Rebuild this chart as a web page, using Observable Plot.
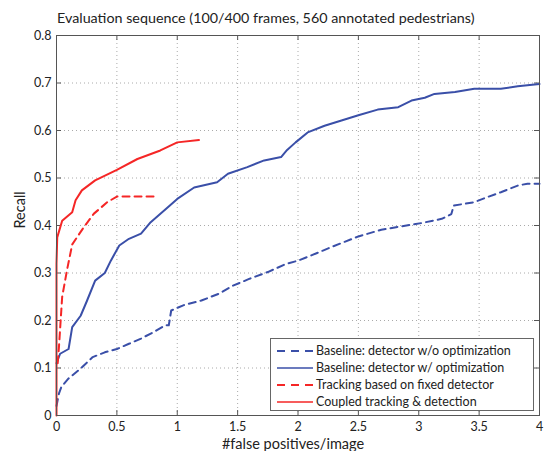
<!DOCTYPE html>
<html>
<head>
<meta charset="utf-8">
<script src="https://cdn.jsdelivr.net/npm/d3@7"></script>
<script src="https://cdn.jsdelivr.net/npm/@observablehq/plot@0.6"></script>
<style>
  html, body { margin: 0; padding: 0; background: #fff; }
  #wrap { position: relative; width: 544px; height: 451px; font-family: "Lato", "Liberation Sans", sans-serif; }
  #title { height: 28px; box-sizing: border-box; padding-top: 10px; padding-left: 57px; font-size: 14.3px; line-height: 16px; color: #222; white-space: nowrap; }
  #legend { position: absolute; left: 270px; top: 338px; width: 264px; height: 73px; box-sizing: border-box; border: 1px solid #666; background: #fff; padding-top: 3px; }
  .row { height: 17px; display: flex; align-items: center; font-size: 12.5px; color: #222; white-space: nowrap; }
  .row svg { margin-left: 6px; margin-right: 3px; }
</style>
</head>
<body>
<div id="wrap">
  <div id="title"></div>
  <div id="chart"></div>
  <div id="legend"></div>
</div>
<script>
const title = "Evaluation sequence (100/400 frames, 560 annotated pedestrians)";
const xLabel = "#false positives/image";
const yLabel = "Recall";
const xTicks = [0, 0.5, 1, 1.5, 2, 2.5, 3, 3.5, 4];
const yTicks = [0, 0.1, 0.2, 0.3, 0.4, 0.5, 0.6, 0.7, 0.8];

const seriesNames = [
  "Baseline: detector w/o optimization",
  "Baseline: detector w/ optimization",
  "Tracking based on fixed detector",
  "Coupled tracking & detection"
];
const seriesColors = ["#3a4fa8", "#3a4fa8", "#f52626", "#f52626"];
const seriesDashed = [true, false, true, false];

// [false positives per image, recall]
const baselineWithout = [
  [0, 0.02], [0.02, 0.046], [0.04, 0.06], [0.1, 0.078], [0.2, 0.099], [0.3, 0.123],
  [0.4, 0.133], [0.5, 0.14], [0.6, 0.151], [0.7, 0.162], [0.8, 0.175], [0.9, 0.19],
  [0.93, 0.19], [0.95, 0.221], [1.05, 0.232], [1.2, 0.242], [1.35, 0.257], [1.45, 0.272],
  [1.6, 0.288], [1.75, 0.302], [1.9, 0.319], [2.0, 0.326], [2.11, 0.337], [2.27, 0.354],
  [2.5, 0.377], [2.69, 0.391], [2.85, 0.398], [3.02, 0.405], [3.19, 0.414], [3.27, 0.424],
  [3.29, 0.442], [3.46, 0.449], [3.57, 0.46], [3.68, 0.47], [3.82, 0.484], [3.9, 0.488], [4.0, 0.488]
];
const baselineWith = [
  [0, 0.11], [0.03, 0.13], [0.1, 0.14], [0.13, 0.186], [0.2, 0.21], [0.25, 0.24],
  [0.32, 0.284], [0.4, 0.3], [0.45, 0.326], [0.52, 0.358], [0.6, 0.372], [0.7, 0.383],
  [0.78, 0.407], [0.92, 0.438], [1.0, 0.456], [1.14, 0.48], [1.33, 0.491], [1.42, 0.509],
  [1.58, 0.523], [1.72, 0.537], [1.86, 0.544], [1.91, 0.559], [1.98, 0.575], [2.08, 0.596],
  [2.22, 0.61], [2.36, 0.621], [2.5, 0.632], [2.66, 0.644], [2.83, 0.649], [2.94, 0.663],
  [3.05, 0.669], [3.13, 0.677], [3.3, 0.681], [3.46, 0.688], [3.68, 0.688], [3.82, 0.693], [4.0, 0.698]
];
const trackingFixed = [
  [0.01, 0.11], [0.02, 0.143], [0.047, 0.25], [0.09, 0.31], [0.13, 0.36], [0.225, 0.396],
  [0.31, 0.425], [0.42, 0.449], [0.5, 0.461], [0.84, 0.461]
];
const coupled = [
  [0, 0], [0, 0.32], [0.006, 0.375], [0.047, 0.41], [0.13, 0.428], [0.158, 0.453],
  [0.21, 0.474], [0.32, 0.495], [0.5, 0.517], [0.67, 0.54], [0.86, 0.558], [1.0, 0.575], [1.18, 0.58]
];
const seriesData = [baselineWithout, baselineWith, trackingFixed, coupled];

document.getElementById("title").textContent = title;

const W = 544, H = 423;
const mL = 56, mR = 5, mT = 7, mB = 36;
const fw = W - mL - mR, fh = H - mT - mB;
const tick = 5;
const fmt = d => String(+d.toFixed(2));

const lineMarks = seriesData.map((data, i) => Plot.line(data, {
  x: d => d[0], y: d => d[1],
  stroke: seriesColors[i], strokeWidth: 2,
  strokeDasharray: seriesDashed[i] ? "7,5" : null
}));

const chart = Plot.plot({
  width: W, height: H,
  marginLeft: mL, marginRight: mR, marginTop: mT, marginBottom: mB,
  style: { fontFamily: "Lato, 'Liberation Sans', sans-serif", fontSize: "12.5px", color: "#222", background: "#fff", overflow: "visible" },
  x: { domain: [0, 4] },
  y: { domain: [0, 0.8] },
  marks: [
    Plot.gridX(xTicks.slice(1, -1), { stroke: "#aaa", strokeOpacity: 1, strokeDasharray: "1,3" }),
    Plot.gridY(yTicks.slice(1, -1), { stroke: "#aaa", strokeOpacity: 1, strokeDasharray: "1,3" }),
    Plot.ruleX(xTicks, { stroke: "#555", insetTop: fh - tick }),
    Plot.ruleX(xTicks, { stroke: "#555", insetBottom: fh - tick }),
    Plot.ruleY(yTicks, { stroke: "#555", insetRight: fw - tick }),
    Plot.ruleY(yTicks, { stroke: "#555", insetLeft: fw - tick }),
    Plot.axisX({ ticks: xTicks, tickSize: 0, tickPadding: 7, label: null, fill: "#222", tickFormat: fmt }),
    Plot.axisY({ ticks: yTicks, tickSize: 0, tickPadding: 5, label: null, fill: "#222", tickFormat: fmt }),
    ...lineMarks,
    Plot.frame({ stroke: "#555" }),
    Plot.text([xLabel], { frameAnchor: "bottom", dy: 29, dx: -5, fontSize: 14.5, fill: "#222", lineAnchor: "middle" }),
    Plot.text([yLabel], { frameAnchor: "left", rotate: -90, dx: -36, dy: 3, fontSize: 14.5, fill: "#222", lineAnchor: "middle" })
  ]
});
document.getElementById("chart").appendChild(chart);

// legend
const legend = document.getElementById("legend");
seriesNames.forEach((name, i) => {
  const row = document.createElement("div");
  row.className = "row";
  const svgNS = "http://www.w3.org/2000/svg";
  const s = document.createElementNS(svgNS, "svg");
  s.setAttribute("width", 36); s.setAttribute("height", 10);
  const l = document.createElementNS(svgNS, "line");
  l.setAttribute("x1", 0); l.setAttribute("x2", 36);
  l.setAttribute("y1", 5); l.setAttribute("y2", 5);
  l.setAttribute("stroke", seriesColors[i]);
  l.setAttribute("stroke-width", seriesDashed[i] ? 2 : 1.6);
  if (seriesDashed[i]) l.setAttribute("stroke-dasharray", "8,6");
  s.appendChild(l);
  row.appendChild(s);
  const t = document.createElement("span");
  t.textContent = name;
  row.appendChild(t);
  legend.appendChild(row);
});
</script>
</body>
</html>
